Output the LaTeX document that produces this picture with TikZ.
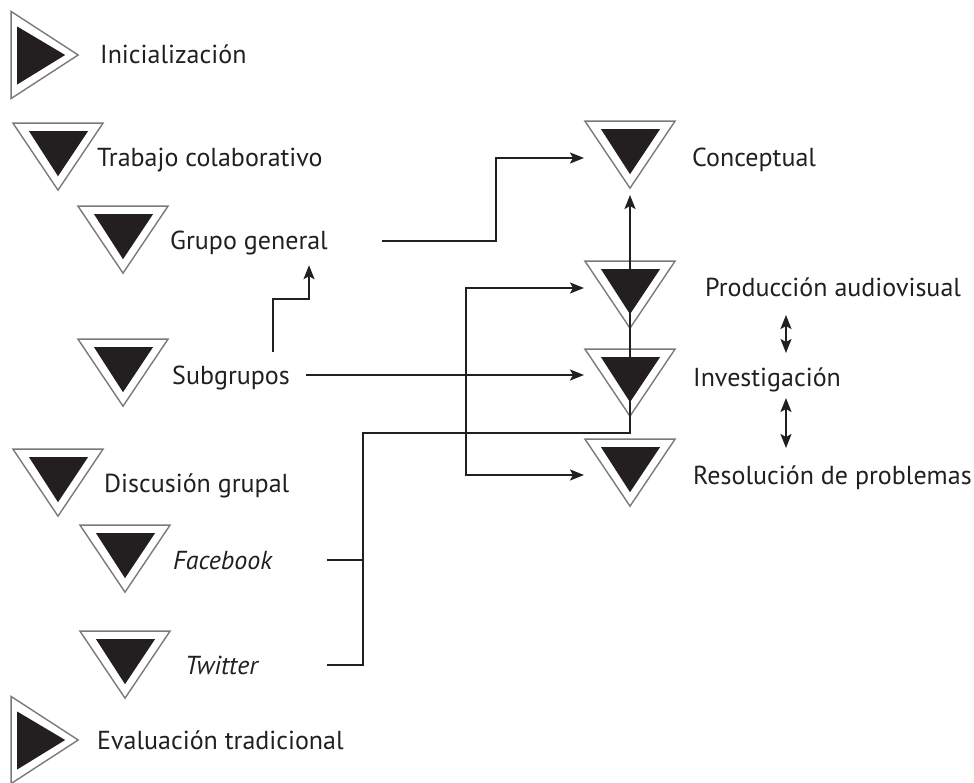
\documentclass[tikz,border=0pt]{standalone}
\usepackage{fontspec}
\setmainfont{PT Sans}
\usetikzlibrary{arrows.meta, shapes.geometric}

\definecolor{triblack}{HTML}{231F20}
\definecolor{trigray}{HTML}{7A7A7A}

\tikzset{
  tri/.style={isosceles triangle, isosceles triangle stretches, inner sep=0pt,
    draw=trigray, line width=1.4pt, fill=white, anchor=apex},
  tridown/.style={tri, shape border rotate=-90, minimum width=90pt, minimum height=67pt,
    path picture={\fill[triblack] ([xshift=16pt,yshift=-8pt]path picture bounding box.north west)
      -- ([xshift=-15pt,yshift=-8pt]path picture bounding box.north east)
      -- ([yshift=14pt]path picture bounding box.south) -- cycle;}},
  triright/.style={tri, minimum width=87pt, minimum height=67pt,
    path picture={\fill[triblack] ([xshift=6pt,yshift=-15pt]path picture bounding box.north west)
      -- ([xshift=6pt,yshift=14pt]path picture bounding box.south west)
      -- ([xshift=-13pt]path picture bounding box.east) -- cycle;}},
  lbl/.style={anchor=west, inner sep=0pt, text height=18pt, text depth=0pt,
    font=\fontsize{26}{31}\selectfont, text=triblack},
  line/.style={draw=triblack, line width=2pt},
  conn/.style={line, -{Stealth[length=14pt,width=11pt,inset=3pt]}},
  dbl/.style={line, {Stealth[length=14pt,width=11pt,inset=3pt]}-{Stealth[length=14pt,width=11pt,inset=3pt]}}
}

\begin{document}
\begin{tikzpicture}[x=1pt, y=-1pt]
  \useasboundingbox (0,0) rectangle (974,783);

  % left column
  \node[triright] (ini) at (80,55) {};
  \node[lbl] (tini) at (100,55) {Inicialización};
  \node[tridown] (trab) at (58,192) {};
  \node[lbl] (ttrab) at (97,158) {Trabajo colaborativo};
  \node[tridown] (grupo) at (123,275) {};
  \node[lbl] (tgrupo) at (170,241) {Grupo general};
  \node[tridown] (subg) at (123,408) {};
  \node[lbl] (tsubg) at (172,375) {Subgrupos};
  \node[tridown] (disc) at (58,518) {};
  \node[lbl] (tdisc) at (104,483) {Discusión grupal};
  \node[tridown] (face) at (125,594) {};
  \node[lbl] (tface) at (173,560) {\itshape Facebook};
  \node[tridown] (twit) at (125,700) {};
  \node[lbl] (ttwit) at (185,665) {\itshape Twitter};
  \node[triright] (eval) at (80,740) {};
  \node[lbl] (teval) at (97,740) {Evaluación tradicional};

  % right column
  \node[tridown] (conc) at (630,190) {};
  \node[lbl] (tconc) at (692,158) {Conceptual};
  \node[tridown] (prod) at (630,330) {};
  \node[lbl] (tprod) at (705,288) {Producción audiovisual};
  \node[tridown] (inv) at (630,418) {};
  \node[lbl] (tinv) at (693,377) {Investigación};
  \node[tridown] (res) at (630,508) {};
  \node[lbl] (tres) at (693,475) {Resolución de problemas};

  % where the connectors turn
  \coordinate (tap) at (327,0);
  \coordinate (bus) at (363,0);
  \coordinate (split) at (466,0);
  \coordinate (feed) at (584,0);
  \coordinate (ret) at ([yshift=-15pt]inv.apex);

  \draw[conn] ([xshift=54pt]tgrupo.east) -- ++(114,0) |- (tconc.west -| feed);
  \draw[conn] ([xshift=101pt,yshift=14pt]tsubg.north west) -- ++(0,-53)
    -| ([xshift=139pt,yshift=-15pt]tgrupo.south west);
  \draw[conn] ([xshift=16pt]tsubg.east) -- (tsubg.east -| feed);
  \draw[line] (tface.east -| tap) -- (tface.east -| bus);
  \draw[conn] (ttwit.east -| tap) -| (ret -| bus) -- (ret) -- ([yshift=-5pt]conc.apex);
  \draw[conn] (ret -| split) |- (tprod.west -| feed);
  \draw[conn] (ret -| split) |- (tres.west -| feed);

  \draw[dbl] ([xshift=93pt,yshift=62pt]tinv.west) -- ([xshift=93pt,yshift=24pt]tinv.west);
  \draw[dbl] ([xshift=93pt,yshift=-21pt]tinv.west) -- ([xshift=93pt,yshift=-71pt]tinv.west);
\end{tikzpicture}
\end{document}
